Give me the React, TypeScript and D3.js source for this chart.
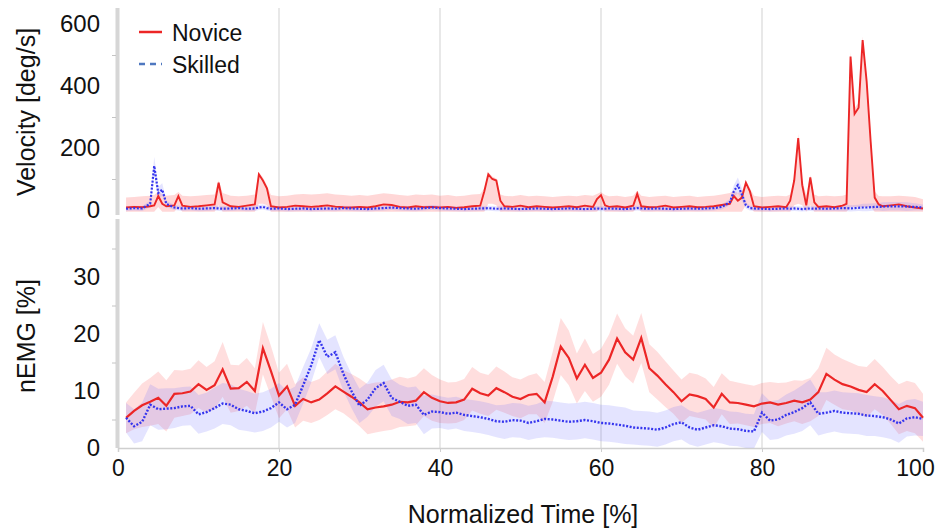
import React, { useEffect, useRef } from 'react';
import * as d3 from 'd3';

// ---- data ----
const xTicks = [0, 20, 40, 60, 80, 100];
const velTicks = [0, 200, 400, 600];
const velMinor = [100, 300, 500];
const emgTicks = [0, 10, 20, 30];
const emgMinor = [5, 15, 25, 35];
const gridX = [20, 40, 60, 80];
const seriesNames = ['Novice', 'Skilled'];

// nEMG [%], one value per 1 % of normalized time (1..100)
const emgNovice = [
  5.3, 6.5, 7.5, 8.1, 8.8, 7.4, 9.5, 9.6, 9.9, 11.2,
  10.2, 11.0, 13.8, 10.4, 10.5, 11.6, 10.0, 17.5, 13.5, 9.2,
  10.8, 7.4, 8.6, 8.0, 8.5, 9.6, 10.8, 9.9, 9.0, 8.0,
  6.8, 7.1, 7.3, 7.6, 8.1, 8.0, 8.3, 9.8, 8.8, 8.2,
  7.9, 8.0, 8.5, 10.4, 9.6, 9.2, 10.5, 9.8, 9.0, 8.6,
  9.3, 9.5, 8.0, 12.5, 17.8, 15.8, 12.2, 14.6, 12.3, 13.2,
  15.5, 19.2, 16.8, 15.5, 19.3, 14.0, 12.7, 11.2, 9.8, 8.2,
  9.4, 9.1, 8.6, 7.1, 9.5, 8.0, 7.9, 7.6, 7.3, 7.8,
  8.0, 7.6, 7.9, 8.3, 8.0, 8.5, 9.8, 13.0, 12.0, 11.2,
  10.8, 10.2, 9.8, 11.2, 10.0, 8.4, 6.8, 7.4, 7.0, 5.3,
];
const emgNoviceSd = [
  2.7, 3.2, 3.8, 4.2, 4.6, 4.5, 4.2, 4.0, 4.0, 4.2,
  4.0, 4.2, 4.8, 4.2, 4.0, 4.2, 4.0, 4.6, 4.4, 4.0,
  4.0, 3.8, 3.8, 3.6, 3.6, 3.8, 4.0, 3.8, 4.0, 4.2,
  4.4, 4.4, 4.3, 4.4, 4.4, 4.2, 4.3, 4.2, 4.0, 3.8,
  3.6, 3.6, 3.6, 3.8, 3.6, 3.6, 3.8, 3.6, 3.4, 3.4,
  3.4, 3.6, 3.6, 4.4, 5.0, 4.8, 4.4, 4.6, 4.2, 4.2,
  4.4, 4.4, 4.2, 4.2, 4.4, 4.2, 4.2, 4.0, 3.8, 3.8,
  3.8, 3.8, 3.6, 3.6, 3.6, 3.8, 3.6, 3.6, 3.6, 3.6,
  3.6, 3.8, 3.6, 3.6, 3.8, 3.8, 4.2, 4.6, 4.4, 4.4,
  4.2, 4.2, 4.4, 4.4, 4.2, 4.2, 4.4, 4.4, 4.4, 4.2,
];
const emgSkilled = [
  5.3, 3.8, 4.6, 7.6, 6.8, 6.9, 7.0, 7.3, 7.4, 5.9,
  6.3, 7.0, 7.8, 7.6, 6.8, 6.5, 6.1, 6.4, 7.0, 8.0,
  6.8, 7.6, 11.0, 14.5, 18.9, 16.0, 16.8, 13.0, 10.0, 7.4,
  8.5, 10.5, 11.4, 8.8, 8.1, 7.4, 7.6, 5.8, 6.4, 6.3,
  6.0, 6.2, 5.8, 5.6, 5.4, 5.1, 4.7, 4.6, 4.9, 4.8,
  4.4, 4.7, 5.1, 5.0, 4.8, 4.6, 4.7, 4.9, 4.7, 4.4,
  4.3, 4.1, 3.9, 3.6, 3.5, 3.4, 3.2, 3.6, 4.2, 4.5,
  3.6, 3.2, 3.6, 4.0, 3.8, 3.4, 3.3, 3.0, 2.9, 6.2,
  4.8, 5.0, 5.8, 6.3, 7.0, 8.0, 6.0, 6.2, 6.5, 6.2,
  6.1, 6.0, 5.7, 5.6, 5.4, 5.0, 4.3, 5.2, 5.4, 5.1,
];
const emgSkilledSd = [
  2.6, 3.0, 3.4, 3.6, 3.6, 3.6, 3.5, 3.4, 3.4, 3.4,
  3.4, 3.6, 3.6, 3.6, 3.6, 3.5, 3.4, 3.4, 3.4, 3.4,
  3.2, 3.2, 3.2, 3.0, 3.0, 3.0, 3.0, 3.0, 3.0, 3.0,
  3.0, 3.2, 3.2, 3.2, 3.0, 3.2, 3.2, 3.4, 3.0, 2.8,
  2.8, 2.8, 2.8, 2.8, 2.8, 2.8, 2.8, 3.0, 3.0, 3.0,
  3.0, 3.0, 3.2, 3.2, 3.2, 3.2, 3.2, 3.2, 3.2, 3.2,
  3.2, 3.2, 3.2, 3.0, 3.0, 3.0, 3.0, 3.0, 3.0, 3.0,
  3.0, 3.0, 3.0, 3.0, 3.0, 3.0, 3.0, 3.0, 3.0, 3.4,
  3.4, 3.4, 3.6, 3.8, 4.0, 4.0, 3.8, 3.6, 3.6, 3.6,
  3.6, 3.6, 3.6, 3.5, 3.5, 3.4, 3.4, 3.2, 3.2, 3.0,
];

// velocity [deg/s], sampled more densely around the spikes
const velTime = [
  1, 2, 3, 4, 4.5, 5, 5.5, 6, 7, 7.5, 8, 9, 10, 11, 12, 12.5, 13, 14, 15, 16, 17, 17.5, 18, 18.5, 19,
  20, 21, 22, 23, 24, 25, 26, 27, 28, 29, 30, 31, 32, 33, 34, 35, 36, 37, 38, 39, 40, 41, 42, 43, 44, 45,
  45.5, 46, 46.5, 47, 47.5, 48,
  49, 50, 51, 52, 53, 54, 55, 56, 57, 58, 59,
  59.5, 60, 60.5, 61,
  62, 63, 64,
  64.5, 65,
  66, 67, 68, 69, 70, 71, 72, 73, 74, 75, 76,
  76.5, 77, 77.5, 78, 78.5, 79,
  80, 81, 82, 83,
  83.5, 84, 84.5, 85, 85.5, 86, 86.5, 87,
  88, 89, 90,
  90.5, 91, 91.5, 92, 92.5, 93, 93.5, 94, 94.5, 95,
  96, 97, 98, 99, 100,
];
const velNovice = [
  8, 10, 9, 12, 15, 45, 20, 12, 15, 45, 14, 10, 12, 15, 18, 88, 25, 12, 10, 14, 18, 115, 95, 70, 12,
  8, 10, 14, 12, 10, 12, 15, 11, 9, 8, 10, 8, 12, 18, 16, 10, 8, 12, 9, 10, 8, 10, 7, 9, 12, 14,
  60, 115, 100, 95, 30, 12,
  10, 14, 9, 12, 10, 8, 10, 12, 9, 14, 10,
  35, 48, 15, 10,
  12, 8, 14,
  52, 12,
  9, 10, 14, 8, 10, 12, 9, 10, 12, 16, 20,
  45, 30, 40, 88, 60, 12,
  8, 10, 12, 9,
  30, 95, 232, 80, 15, 105, 25, 10,
  12, 9, 14,
  20, 495, 310, 330, 548, 415, 220, 40, 18, 12,
  15, 18, 12, 8, 5,
];
const velNoviceHi = [
  40, 42, 44, 46, 48, 60, 50, 46, 48, 58, 46, 44, 46, 48, 50, 95, 55, 46, 44, 46, 50, 122, 105, 80, 48,
  44, 46, 50, 52, 50, 52, 54, 50, 48, 46, 48, 46, 50, 54, 52, 48, 46, 50, 48, 50, 46, 48, 44, 46, 50, 52,
  70, 122, 108, 102, 50, 46,
  44, 48, 44, 46, 44, 42, 44, 46, 44, 48, 46,
  52, 58, 48, 44,
  46, 42, 46,
  62, 46,
  42, 44, 46, 42, 44, 46, 42, 44, 46, 50, 55,
  62, 55, 60, 95, 70, 46,
  42, 44, 46, 44,
  50, 105, 245, 95, 48, 112, 50, 44,
  46, 44, 46,
  50, 510, 330, 345, 560, 430, 235, 60, 45, 44,
  44, 46, 44, 42, 35,
];
const velNoviceLo = [
  -6, -6, -6, -6, -6, 10, -6, -6, -6, 10, -6, -6, -6, -6, -6, 15, -6, -6, -6, -6, -6, 20, 20, 15, -6,
  -6, -6, -6, -6, -6, -6, -6, -6, -6, -6, -6, -6, -6, -6, -6, -6, -6, -6, -6, -6, -6, -6, -6, -6, -6, -6,
  -6, 20, 20, 15, -6, -6,
  -6, -6, -6, -6, -6, -6, -6, -6, -6, -6, -6,
  -6, 8, -6, -6,
  -6, -6, -6,
  8, -6,
  -6, -6, -6, -6, -6, -6, -6, -6, -6, -6, -6,
  -6, -6, -6, 15, 10, -6,
  -6, -6, -6, -6,
  -6, 15, 20, 15, -6, 15, -6, -6,
  -6, -6, -6,
  -6, 10, 10, 10, 10, 10, 10, -6, -6, -6,
  -6, -6, -6, -6, -6,
];
const velSkilled = [
  4, 6, 5, 20, 142, 55, 66, 20, 8, 6, 5, 6, 4, 5, 6, 5, 4, 5, 6, 4, 5, 8, 10, 6, 4,
  5, 3, 4, 5, 3, 4, 5, 4, 6, 5, 4, 3, 5, 6, 8, 6, 5, 4, 6, 8, 6, 5, 4, 3, 4, 5,
  5, 6, 5, 4, 4, 5,
  4, 3, 4, 5, 4, 3, 4, 5, 4, 3, 4,
  5, 4, 4, 5,
  4, 3, 5,
  6, 5,
  4, 5, 4, 3, 4, 5, 4, 5, 6, 10, 25,
  60, 80, 50, 15, 6, 5,
  4, 3, 4, 5,
  4, 5, 4, 3, 4, 5, 4, 5,
  4, 5, 6,
  6, 5, 6, 7, 8, 8, 9, 10, 10, 11,
  12, 12, 11, 10, 8,
];
const velSkilledSd = [
  8, 8, 8, 10, 30, 20, 20, 10, 8, 8, 8, 8, 8, 8, 8, 8, 8, 8, 8, 8, 8, 8, 8, 8, 8,
  8, 8, 8, 8, 8, 8, 8, 8, 8, 8, 8, 8, 8, 8, 8, 8, 8, 8, 8, 8, 8, 8, 8, 8, 8, 8,
  8, 8, 8, 8, 8, 8,
  8, 8, 8, 8, 8, 8, 8, 8, 8, 8, 8,
  8, 8, 8, 8,
  8, 8, 8,
  8, 8,
  8, 8, 8, 8, 8, 8, 8, 8, 8, 8, 10,
  20, 25, 20, 10, 8, 8,
  8, 8, 8, 8,
  8, 8, 8, 8, 8, 8, 8, 8,
  8, 8, 10,
  10, 10, 10, 10, 12, 12, 12, 12, 12, 14,
  14, 14, 14, 12, 10,
];

const RED = '#ec2626';
const BLUE = '#3535ee';
const FONT = "'Liberation Sans', Arial, sans-serif";

const draw = (el: SVGSVGElement) => {
  const svg = d3.select(el);
  svg.selectAll('*').remove();

  const x = d3.scaleLinear().domain([0, 100]).range([118, 923]);
  const yV = d3.scaleLinear().domain([0, 600]).range([210, 24]);
  const yE = d3.scaleLinear().domain([0, 40]).range([448, 220]);

  const defs = svg.append('defs');
  defs.append('clipPath').attr('id', 'clipTop')
    .append('rect').attr('x', 119).attr('y', 6).attr('width', 812).attr('height', 208);
  defs.append('clipPath').attr('id', 'clipBot')
    .append('rect').attr('x', 119).attr('y', 219).attr('width', 812).attr('height', 229);

  // vertical grid lines
  svg.append('g').selectAll('line').data(gridX).join('line')
    .attr('x1', d => x(d)).attr('x2', d => x(d))
    .attr('y1', 8).attr('y2', 448)
    .attr('stroke', '#e8e8e8').attr('stroke-width', 2);

  // grey axis bars on the left
  svg.append('rect').attr('x', 115.5).attr('y', 8).attr('width', 4).attr('height', 207).attr('fill', '#d6d6d6');
  svg.append('rect').attr('x', 115.5).attr('y', 219).attr('width', 4).attr('height', 229).attr('fill', '#d6d6d6');

  // minor ticks
  const minorTop = svg.append('g').attr('transform', 'translate(116,0)')
    .call(d3.axisLeft(yV).tickValues(velMinor).tickSize(4).tickFormat(() => ''));
  const minorBot = svg.append('g').attr('transform', 'translate(116,0)')
    .call(d3.axisLeft(yE).tickValues(emgMinor).tickSize(4).tickFormat(() => ''));
  [minorTop, minorBot].forEach(g => {
    g.select('.domain').remove();
    g.selectAll('line').attr('stroke', '#c4c4c4');
  });

  // y tick labels
  const yAxTop = svg.append('g').attr('transform', 'translate(118,0)')
    .call(d3.axisLeft(yV).tickValues(velTicks).tickSize(0).tickPadding(18));
  const yAxBot = svg.append('g').attr('transform', 'translate(118,0)')
    .call(d3.axisLeft(yE).tickValues(emgTicks).tickSize(0).tickPadding(18));
  [yAxTop, yAxBot].forEach(g => {
    g.select('.domain').remove();
    g.selectAll('text').attr('font-size', 24).attr('font-family', FONT).attr('fill', '#111');
  });

  // x axis
  const xAx = svg.append('g').attr('transform', 'translate(0,448)')
    .call(d3.axisBottom(x).tickValues(xTicks).tickSize(4).tickPadding(8));
  xAx.select('.domain').attr('stroke', '#cfcfcf').attr('stroke-width', 1.5);
  xAx.selectAll('line').attr('stroke', '#cfcfcf');
  xAx.selectAll('text').attr('font-size', 23).attr('font-family', FONT).attr('fill', '#111');
  // the last label sits a little to the left so it stays inside the frame
  xAx.selectAll<SVGTextElement, number>('text').filter(d => d === 100).attr('dx', -8);

  // ---- top panel: velocity ----
  const top = svg.append('g').attr('clip-path', 'url(#clipTop)');
  const vIdx = velTime.map((_, i) => i);
  top.append('path').datum(vIdx)
    .attr('d', d3.area<number>().x(i => x(velTime[i])).y0(i => yV(velNoviceLo[i])).y1(i => yV(velNoviceHi[i])))
    .attr('fill', '#ff4a4a').attr('fill-opacity', 0.22);
  top.append('path').datum(vIdx)
    .attr('d', d3.area<number>().x(i => x(velTime[i]))
      .y0(i => yV(velSkilled[i] - velSkilledSd[i])).y1(i => yV(velSkilled[i] + velSkilledSd[i])))
    .attr('fill', '#6a6aff').attr('fill-opacity', 0.18);
  top.append('path').datum(vIdx)
    .attr('d', d3.line<number>().x(i => x(velTime[i])).y(i => yV(velNovice[i])))
    .attr('fill', 'none').attr('stroke', RED).attr('stroke-width', 1.9);
  top.append('path').datum(vIdx)
    .attr('d', d3.line<number>().x(i => x(velTime[i])).y(i => yV(velSkilled[i])))
    .attr('fill', 'none').attr('stroke', BLUE).attr('stroke-width', 2.2).attr('stroke-dasharray', '2,1.6');

  // ---- bottom panel: nEMG ----
  const bot = svg.append('g').attr('clip-path', 'url(#clipBot)');
  const eIdx = emgNovice.map((_, i) => i);
  const et = (i: number) => x(i + 1);
  bot.append('path').datum(eIdx)
    .attr('d', d3.area<number>().x(et).y0(i => yE(emgNovice[i] - emgNoviceSd[i])).y1(i => yE(emgNovice[i] + emgNoviceSd[i])))
    .attr('fill', '#ff4a4a').attr('fill-opacity', 0.18);
  bot.append('path').datum(eIdx)
    .attr('d', d3.area<number>().x(et).y0(i => yE(emgSkilled[i] - emgSkilledSd[i])).y1(i => yE(emgSkilled[i] + emgSkilledSd[i])))
    .attr('fill', '#6a6aff').attr('fill-opacity', 0.18);
  bot.append('path').datum(eIdx)
    .attr('d', d3.line<number>().x(et).y(i => yE(emgNovice[i])))
    .attr('fill', 'none').attr('stroke', RED).attr('stroke-width', 2.2);
  bot.append('path').datum(eIdx)
    .attr('d', d3.line<number>().x(et).y(i => yE(emgSkilled[i])))
    .attr('fill', 'none').attr('stroke', BLUE).attr('stroke-width', 2.4).attr('stroke-dasharray', '2,1.6');

  // legend
  const leg = svg.append('g');
  [RED, '#4f78c0'].forEach((c, i) => {
    leg.append('line').attr('x1', 139).attr('x2', 162).attr('y1', 32 + i * 32).attr('y2', 32 + i * 32)
      .attr('stroke', c).attr('stroke-width', 2.5).attr('stroke-dasharray', i ? '6,5' : null);
    leg.append('text').attr('x', 172).attr('y', 41 + i * 32).text(seriesNames[i])
      .attr('font-size', 23).attr('font-family', FONT).attr('fill', '#111');
  });

  // axis titles
  svg.append('text').attr('transform', 'translate(26,112) rotate(-90)')
    .attr('text-anchor', 'middle').attr('dominant-baseline', 'central')
    .attr('font-size', 25).attr('font-family', FONT).attr('fill', '#111').text('Velocity [deg/s]');
  svg.append('text').attr('transform', 'translate(26,336) rotate(-90)')
    .attr('text-anchor', 'middle').attr('dominant-baseline', 'central')
    .attr('font-size', 25).attr('font-family', FONT).attr('fill', '#111').text('nEMG [%]');
  svg.append('text').attr('x', 523).attr('y', 523).attr('text-anchor', 'middle')
    .attr('font-size', 25).attr('font-family', FONT).attr('fill', '#111').text('Normalized Time [%]');
};

const App = () => {
  const ref = useRef<SVGSVGElement>(null);
  useEffect(() => {
    if (ref.current) draw(ref.current);
  }, []);
  return (
    <svg ref={ref} width={939} height={530}
      style={{ position: 'absolute', left: 0, top: 0, background: '#fff' }} />
  );
};

export default App;
